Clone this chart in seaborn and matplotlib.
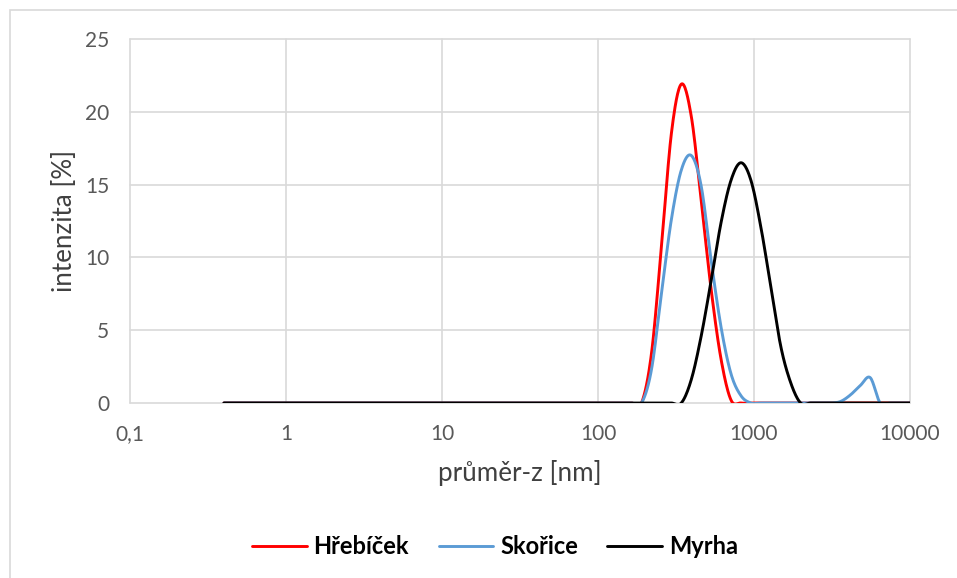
import numpy as np
import pandas as pd
import matplotlib
matplotlib.use("Agg")
import matplotlib.pyplot as plt
import seaborn as sns
from matplotlib.lines import Line2D

# ---- data (Zetasizer size bins, nm) ----
sizes = [0.4, 0.4632, 0.5365, 0.6213, 0.7195, 0.8332, 0.9649, 1.117, 1.294, 1.499,
         1.736, 2.01, 2.328, 2.696, 3.122, 3.615, 4.187, 4.849, 5.615, 6.503,
         7.531, 8.721, 10.1, 11.7, 13.54, 15.69, 18.17, 21.04, 24.36, 28.21,
         32.67, 37.84, 43.82, 50.75, 58.77, 68.06, 78.82, 91.28, 105.7, 122.4,
         141.8, 164.2, 190.1, 220.2, 255.0, 295.3, 342.0, 396.1, 458.7, 531.2,
         615.1, 712.4, 825.0, 955.4, 1106, 1281, 1484, 1718, 1990, 2305,
         2669, 3091, 3580, 4145, 4801, 5560, 6439, 7456, 8635, 10000]

hrebicek = [0]*42 + [0, 3.4, 10.7, 18.5, 21.9, 19.7, 13.9, 7.8, 3.0, 0.2] + [0]*18
skorice = [0]*42 + [0, 2.3, 7.5, 12.6, 16.0, 17.0, 14.9, 9.8, 5.2, 2.0, 0.5] + [0]*9 \
          + [0.1, 0.55, 1.2, 1.74, 0] + [0]*3
myrha = [0]*46 + [0, 1.6, 4.6, 8.4, 12.4, 15.3, 16.5, 15.3, 12.1, 8.0, 3.9, 1.4, 0] + [0]*11

series_names = ["Hřebíček", "Skořice", "Myrha"]
series_values = [hrebicek, skorice, myrha]
colors = ["#FF0000", "#5B9BD5", "#000000"]

y_ticks = [0, 5, 10, 15, 20, 25]
x_ticks = [0.1, 1, 10, 100, 1000, 10000]
x_tick_labels = ["0,1", "1", "10", "100", "1000", "10000"]


def excel_smooth(x, y, n=16):
    """Render like Excel's 'smoothed line' (Catmull-Rom in log-x display space)."""
    u = np.log10(np.asarray(x, float))
    v = np.asarray(y, float)
    P = np.column_stack([u, v])
    P = np.vstack([P[0], P, P[-1]])
    out = []
    t = np.linspace(0, 1, n, endpoint=False)[:, None]
    for i in range(1, len(P) - 2):
        p0, p1, p2, p3 = P[i - 1], P[i], P[i + 1], P[i + 2]
        seg = 0.5 * ((2 * p1) + (-p0 + p2) * t + (2 * p0 - 5 * p1 + 4 * p2 - p3) * t**2
                     + (-p0 + 3 * p1 - 3 * p2 + p3) * t**3)
        out.append(seg)
    out.append(P[-2][None, :])
    S = np.vstack(out)
    return 10 ** S[:, 0], S[:, 1]


frames = []
for name, vals in zip(series_names, series_values):
    xs, ys = excel_smooth(sizes, vals)
    frames.append(pd.DataFrame({"size": xs, "intensity": ys, "series": name,
                                "order": np.arange(len(xs))}))
df = pd.concat(frames, ignore_index=True)

sns.set_style("white")
plt.rcParams["font.family"] = ["Lato", "DejaVu Sans"]

W, H = 957, 578
fig = plt.figure(figsize=(W / 100, H / 100), dpi=100)
ax = fig.add_axes([130 / W, 1 - 403 / H, 780 / W, 364 / H])

grid_c = "#D9D9D9"
for yt in y_ticks:
    ax.axhline(yt, color=grid_c, lw=1.2, zorder=0, clip_on=False)
for xt in x_ticks:
    ax.axvline(xt, color=grid_c, lw=1.2, zorder=0, clip_on=False)

sns.lineplot(data=df, x="size", y="intensity", hue="series", hue_order=series_names,
             palette=dict(zip(series_names, colors)), sort=False, estimator=None,
             units="series", lw=2.1, legend=False, ax=ax, zorder=3)

ax.set_xscale("log")
ax.set_xlim(0.1, 10000)
ax.set_ylim(0, 25)
ax.set_xticks(x_ticks)
ax.set_xticklabels(x_tick_labels)
ax.xaxis.set_minor_locator(matplotlib.ticker.NullLocator())
ax.set_yticks(y_ticks)
ax.set_yticklabels([str(v) for v in y_ticks])
ax.tick_params(axis="both", length=0, labelsize=15, labelcolor="#595959")
ax.tick_params(axis="x", pad=15)
ax.tick_params(axis="y", pad=15)
for s in ax.spines.values():
    s.set_visible(False)

ax.set_xlabel("průměr-z [nm]", fontsize=18.7, color="#404040", labelpad=12)
ax.set_ylabel("intenzita [%]", fontsize=18.7, color="#404040", labelpad=6)

handles = [Line2D([], [], color=c, lw=2.1) for c in colors]
leg = fig.legend(handles, series_names, loc="center", bbox_to_anchor=(495 / W, 1 - 547 / H),
                 ncol=3, frameon=False, prop={"weight": "bold", "size": 17},
                 handlelength=2.3, handletextpad=0.3, columnspacing=1.25)
for txt in leg.get_texts():
    txt.set_color("#000000")

# outer chart border
fig.add_artist(plt.Rectangle((9.5 / W, -0.01), 1.05, 1 - 10 / H + 0.01,
                             transform=fig.transFigure, fill=False,
                             edgecolor="#D9D9D9", lw=1.2))

fig.savefig("out.png", dpi=100)
